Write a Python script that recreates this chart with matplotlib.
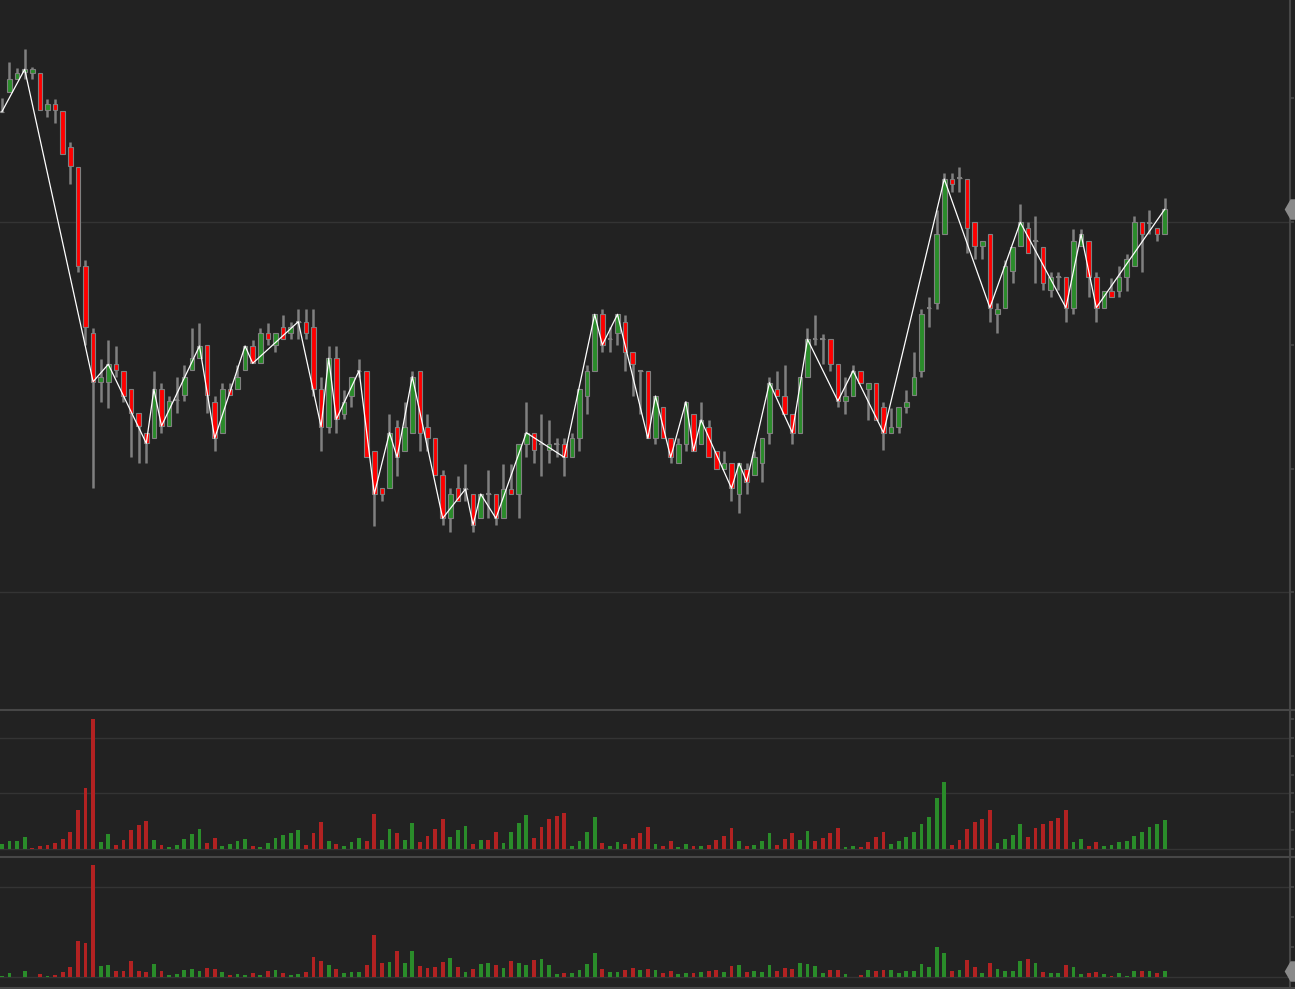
import numpy as np
import matplotlib
matplotlib.use("Agg")
import matplotlib.pyplot as plt

# ---------------- data (price in index points) ----------------
open_ = [888.3, 907.7, 920.7, 928.3, 926.7, 926.7, 890.0, 895.7, 889.3, 852.7,
         833.3, 734.3, 666.7, 618.3, 618.3, 635.7, 629.3, 610.7, 586.7, 567.3,
         561.7, 610.7, 574.0, 600.0, 605.0, 630.0, 641.7, 655.0, 598.3, 567.3,
         610.7, 610.7, 630.0, 654.0, 636.7, 666.7, 655.0, 672.7, 666.7, 678.3,
         678.3, 672.7, 610.7, 573.3, 641.7, 586.0, 604.0, 629.3, 629.3, 549.3,
         511.7, 511.7, 573.3, 549.3, 567.3, 629.3, 573.3, 561.7, 525.0, 481.7,
         511.7, 511.0, 506.0, 481.7, 506.0, 506.0, 481.7, 511.0, 506.0, 555.7,
         567.3, 555.7, 550.0, 555.7, 555.7, 542.7, 561.7, 604.0, 629.3, 685.7,
         660.7, 666.7, 678.3, 648.3, 629.3, 629.3, 561.7, 592.7, 561.7, 536.7,
         555.7, 586.0, 555.7, 573.3, 549.3, 530.7, 536.7, 506.0, 530.7, 525.0,
         536.7, 567.3, 610.7, 604.0, 586.0, 567.3, 623.3, 660.7, 660.7, 660.7,
         636.0, 599.0, 604.0, 629.3, 610.7, 617.3, 592.7, 567.3, 573.3, 592.7,
         605.0, 629.3, 691.7, 697.3, 765.7, 821.0, 821.7, 821.0, 777.7, 754.0,
         765.7, 685.7, 692.3, 729.0, 754.0, 771.7, 759.3, 753.3, 710.0, 722.7,
         722.7, 692.3, 754.0, 759.3, 722.7, 692.3, 709.3, 709.3, 722.7, 734.0,
         777.7, 776.7, 771.7, 765.7]
high = [901.7, 937.7, 931.7, 950.7, 932.7, 926.7, 900.7, 900.7, 889.3, 858.0,
        833.3, 740.0, 671.7, 640.7, 660.0, 654.0, 629.3, 610.7, 586.7, 567.3,
        629.0, 616.7, 604.0, 623.3, 635.0, 672.3, 677.3, 655.0, 604.0, 616.7,
        616.7, 635.0, 654.0, 660.0, 672.3, 677.3, 666.7, 685.0, 678.3, 690.7,
        690.7, 690.7, 622.7, 654.0, 654.0, 610.0, 623.3, 641.0, 629.3, 549.3,
        511.7, 586.0, 580.0, 598.3, 629.3, 629.3, 586.0, 561.7, 530.0, 511.7,
        524.0, 536.0, 506.0, 506.0, 530.0, 506.0, 536.0, 536.0, 555.7, 598.3,
        567.3, 586.0, 580.0, 561.7, 561.7, 567.3, 610.7, 635.0, 685.7, 691.0,
        672.7, 685.7, 685.0, 648.3, 629.3, 629.3, 604.0, 592.7, 561.7, 561.7,
        598.3, 586.0, 598.3, 580.0, 549.3, 549.3, 536.7, 536.7, 536.7, 549.3,
        561.7, 622.7, 629.3, 635.0, 586.0, 623.3, 671.7, 685.0, 666.0, 660.7,
        636.0, 622.7, 635.0, 629.3, 617.3, 617.3, 597.7, 591.7, 592.7, 610.0,
        647.7, 691.0, 703.3, 790.0, 826.7, 826.7, 832.7, 821.0, 777.7, 759.3,
        765.7, 696.7, 740.0, 753.3, 796.0, 777.7, 784.0, 753.3, 727.7, 727.7,
        722.7, 771.0, 771.0, 759.3, 727.7, 709.3, 721.7, 734.0, 746.0, 784.0,
        777.7, 790.0, 771.7, 802.3]
low = [888.3, 907.7, 920.7, 920.7, 920.7, 890.0, 883.3, 876.7, 846.0, 815.7,
       728.3, 655.0, 511.7, 598.3, 592.3, 623.3, 598.3, 542.7, 536.7, 536.7,
       561.7, 567.3, 574.0, 586.7, 599.0, 630.0, 641.7, 586.7, 549.3, 567.3,
       605.0, 610.7, 630.0, 636.7, 636.7, 655.0, 648.3, 661.0, 661.0, 660.7,
       660.7, 604.0, 549.3, 567.3, 567.3, 580.7, 592.7, 623.3, 542.7, 474.0,
       499.3, 511.7, 524.0, 549.3, 567.3, 549.3, 549.3, 525.0, 475.0, 468.3,
       499.3, 499.3, 468.3, 481.7, 481.7, 475.0, 481.7, 506.0, 481.7, 542.7,
       536.7, 524.0, 536.7, 542.7, 524.0, 542.7, 549.3, 586.0, 629.3, 648.3,
       648.3, 655.0, 629.3, 604.0, 586.0, 561.7, 555.7, 561.7, 536.7, 536.7,
       549.3, 549.3, 555.7, 542.7, 530.7, 530.7, 499.3, 487.3, 506.0, 525.0,
       518.3, 555.7, 604.0, 586.0, 555.7, 567.3, 623.3, 655.0, 636.0, 629.3,
       592.7, 586.0, 604.0, 617.3, 580.0, 580.0, 550.0, 567.3, 567.3, 586.7,
       605.0, 623.3, 672.7, 691.0, 765.7, 808.3, 808.3, 746.7, 740.7, 740.7,
       678.3, 666.7, 692.3, 716.7, 754.0, 746.7, 716.7, 710.0, 703.3, 710.0,
       678.3, 685.7, 754.0, 703.3, 678.3, 692.3, 703.3, 703.3, 709.3, 734.0,
       728.3, 765.7, 759.3, 765.7]
close = [888.3, 920.7, 926.7, 930.7, 931.0, 890.0, 895.7, 890.0, 846.0, 834.0,
         734.3, 673.3, 618.3, 623.3, 635.7, 630.0, 604.0, 586.7, 574.0, 556.7,
         610.7, 574.0, 599.0, 600.0, 623.3, 641.7, 654.0, 605.0, 561.7, 610.7,
         605.0, 623.3, 654.0, 636.7, 666.7, 661.0, 666.7, 661.0, 672.7, 678.3,
         666.7, 610.7, 573.3, 641.7, 580.7, 598.3, 623.3, 629.3, 542.7, 506.0,
         506.0, 567.3, 542.7, 573.3, 623.3, 567.3, 561.7, 525.0, 481.7, 506.0,
         499.3, 511.0, 475.0, 506.0, 506.0, 481.7, 511.0, 506.0, 555.7, 567.3,
         550.0, 555.7, 555.7, 555.7, 542.7, 561.7, 610.7, 629.3, 685.7, 655.0,
         660.7, 685.7, 648.3, 636.0, 629.3, 561.7, 604.0, 561.7, 542.7, 555.7,
         598.3, 549.3, 580.0, 542.7, 530.7, 536.7, 511.7, 536.7, 518.3, 542.7,
         561.7, 617.3, 604.0, 586.0, 567.3, 623.3, 660.7, 660.7, 660.7, 636.0,
         599.0, 604.0, 629.3, 617.3, 617.3, 580.0, 567.3, 573.3, 592.7, 598.3,
         623.3, 685.7, 691.7, 765.7, 821.0, 815.7, 821.7, 771.7, 754.0, 759.3,
         692.3, 691.0, 734.0, 753.3, 777.7, 746.7, 759.3, 716.7, 722.7, 722.7,
         692.3, 759.3, 765.7, 722.7, 692.3, 709.3, 703.3, 722.7, 740.7, 777.7,
         765.7, 776.7, 765.7, 790.7]

# zigzag swing points (bar indices)
zigzag_idx = [0, 3, 12, 14, 19, 20, 21, 26, 28, 32, 33, 39, 42, 43, 44, 47, 49,
              51, 52, 54, 58, 61, 62, 63, 65, 69, 74, 78, 79, 81, 85, 86, 88, 90,
              91, 92, 96, 97, 98, 101, 104, 106, 110, 112, 116, 124, 130, 134,
              140, 142, 144, 153]

volume1 = [84, 138, 138, 210, 12, 48, 66, 102, 174, 300,
           696, 1092, 2334, 120, 264, 66, 156, 336, 426, 498,
           156, 66, 30, 66, 174, 264, 354, 102, 192, 48,
           84, 138, 174, 48, 30, 102, 192, 246, 282, 336,
           66, 282, 480, 138, 84, 48, 120, 192, 138, 624,
           156, 354, 282, 156, 462, 120, 228, 354, 534, 210,
           336, 408, 84, 156, 156, 300, 102, 300, 462, 606,
           192, 390, 534, 588, 642, 48, 138, 300, 570, 102,
           48, 120, 84, 192, 282, 390, 84, 48, 138, 30,
           84, 48, 48, 66, 156, 228, 372, 138, 48, 66,
           138, 282, 66, 174, 282, 156, 318, 138, 192, 282,
           372, 30, 48, 30, 120, 210, 300, 84, 138, 210,
           300, 444, 570, 912, 1200, 66, 156, 354, 480, 534,
           696, 102, 174, 246, 444, 210, 372, 444, 498, 552,
           696, 120, 174, 48, 120, 48, 66, 120, 138, 228,
           300, 390, 444, 516]
volume1_dir = ("GGGGRRRRRR" "RRRGGRRRRR" "GRGGGGGRRG" "GGGRGGGGGG" "RRRGRGGGRR"
               "GGRGGRRRRG" "GGRGRRGGGG" "RRRRRGGGGR" "GGRRRRGRRG" "GRGRRRRGRG"
               "GGRRRGGRRR" "RGGRRRRGGG" "GGGGGRRRRR" "RGGGGRRRRR" "RGGRRGGGGG"
               "GGGG")

volume2 = [40, 130, 10, 190, 10, 100, 40, 70, 160, 310,
           1090, 1030, 3370, 340, 370, 190, 190, 490, 190, 160,
           400, 190, 70, 100, 220, 250, 190, 280, 250, 160,
           70, 100, 70, 130, 70, 190, 220, 130, 70, 100,
           160, 610, 490, 370, 250, 130, 160, 160, 370, 1270,
           430, 460, 790, 430, 790, 340, 280, 310, 460, 580,
           310, 160, 250, 400, 430, 370, 280, 490, 430, 370,
           520, 550, 370, 100, 130, 130, 220, 400, 730, 250,
           160, 160, 220, 280, 220, 250, 220, 130, 190, 100,
           130, 130, 160, 190, 220, 160, 340, 370, 160, 190,
           160, 370, 190, 280, 250, 430, 400, 340, 130, 220,
           220, 100, 10, 70, 220, 190, 220, 220, 130, 190,
           190, 400, 310, 910, 730, 190, 220, 520, 310, 130,
           430, 250, 190, 190, 490, 550, 430, 160, 130, 130,
           370, 310, 100, 130, 160, 100, 40, 130, 40, 190,
           190, 190, 130, 190]
volume2_dir = ("GGGGGRGRRR" "RRRGGRRRRR" "GRGGGGGRRG" "RGGRGRGRGG" "RRRGRGGGRR"
               "RGRGGRRRRG" "RGRGGRGRGG" "RGGGRGGGGR" "GGRRGRGRRG" "GRGRRGRGRG"
               "GGRRRGGGGR" "RGGRGRRGGG" "GGGGGRGRRG" "RGGGGRGRGG" "RGGRRGRGGG"
               "RGRG")

price_grid = [778.0, 407.5]
price_ticks = [407.5, 531.0, 654.5, 778.0, 901.5]
vol1_grid = [0, 1000, 2000]
vol1_ticks = [0, 333, 667, 1000, 1333, 1667, 2000, 2333]
vol2_grid = [0, 2700]
vol2_ticks = [0, 900, 1800, 2700]

# ---------------- styling ----------------
BG = "#222222"
GRID = "#343434"
SEP = "#474747"
WICK = "#808080"
UP = "#2A8C2A"
DOWN = "#FF0000"
VUP = "#2A8C2A"
VDOWN = "#B22222"

W, H = 1295, 989
fig = plt.figure(figsize=(W / 100, H / 100), dpi=100, facecolor=BG)

right = 1290 / W
y_main_bottom = (H - 710.3) / H
y_v1_bottom = (H - 857.3) / H

ax = fig.add_axes([0, y_main_bottom, right, 1 - y_main_bottom])
axv1 = fig.add_axes([0, y_v1_bottom, right, y_main_bottom - y_v1_bottom])
axv2 = fig.add_axes([0, 0, right, y_v1_bottom])

n = len(close)
x = np.arange(n)
o = np.array(open_); c = np.array(close)
hi = np.array(high); lo = np.array(low)
xlim = (-0.25, 169.49)

for a in (ax, axv1, axv2):
    a.set_facecolor(BG)
    a.set_xlim(*xlim)
    a.set_xticks([])
    for s in ("top", "left", "bottom"):
        a.spines[s].set_visible(False)
    a.spines["right"].set_color(SEP)
    a.spines["right"].set_linewidth(1.5)
    a.yaxis.tick_right()
    a.tick_params(axis="y", which="both", direction="out", length=3,
                  width=1.2, color=SEP, labelright=False, labelleft=False)

# main panel
ax.set_ylim(289.7, 1000)
ax.set_yticks(price_ticks)
for g in price_grid:
    ax.axhline(g, color=GRID, lw=1.0, zorder=0)

ax.vlines(x, lo, hi, color=WICK, lw=1.8, zorder=2)
body_col = [UP if cc > oo else DOWN for oo, cc in zip(o, c)]
ax.bar(x, np.abs(c - o), bottom=np.minimum(o, c), width=0.6, color=body_col,
       edgecolor=WICK, linewidth=0.8, zorder=3)
doji = np.isclose(o, c)
ax.hlines(o[doji], x[doji] - 0.3, x[doji] + 0.3, color=WICK, lw=1.5, zorder=3)

zz = np.array(zigzag_idx)
ax.plot(zz, c[zz], color="white", lw=0.9, zorder=4)

# volume panel 1
axv1.set_ylim(-155, 2491)
axv1.set_yticks(vol1_ticks)
for g in vol1_grid:
    axv1.axhline(g, color=GRID, lw=1.0, zorder=0)
axv1.bar(x, volume1, width=0.5,
         color=[VUP if d == "G" else VDOWN for d in volume1_dir], zorder=2)

# volume panel 2
axv2.set_ylim(-351, 3600)
axv2.set_yticks(vol2_ticks)
for g in vol2_grid:
    axv2.axhline(g, color=GRID, lw=1.0, zorder=0)
axv2.bar(x, volume2, width=0.5,
         color=[VUP if d == "G" else VDOWN for d in volume2_dir], zorder=2)

# panel separators
for yy in (710.3, 857.3, 988.0):
    fig.add_artist(plt.Line2D([0, 1], [(H - yy) / H] * 2, color=SEP, lw=1.5))

# last value markers on the right edge
ax.plot([1.0045], [c[-1]], marker="H", ms=17, color="#8A8A8A", mew=0,
        transform=ax.get_yaxis_transform(), clip_on=False, zorder=5)
axv2.plot([1.0045], [volume2[-1]], marker="H", ms=17, color="#8A8A8A", mew=0,
          transform=axv2.get_yaxis_transform(), clip_on=False, zorder=5)

fig.savefig("out.png", dpi=100, facecolor=BG)
